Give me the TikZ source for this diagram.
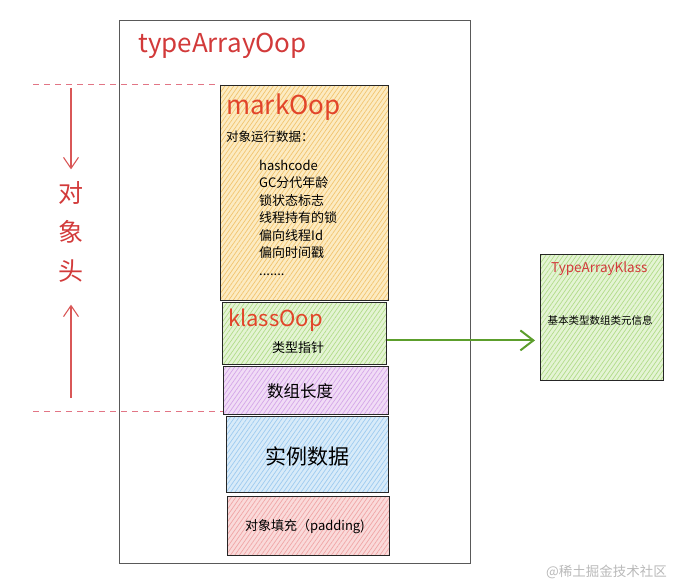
\documentclass[tikz,border=0pt]{standalone}
\usepackage{fontspec}
\setmainfont{Noto Sans CJK SC}
\usetikzlibrary{patterns.meta}
\usetikzlibrary{arrows.meta}

\definecolor{oopred}{HTML}{D23A3A}
\definecolor{markred}{HTML}{E2452A}
\definecolor{dashred}{HTML}{E27585}
\definecolor{arrgreen}{HTML}{5C9E2C}
\definecolor{markfill}{HTML}{FCEBC2}
\definecolor{markhatch}{HTML}{F2C46E}
\definecolor{klassfill}{HTML}{E4F4D4}
\definecolor{klasshatch}{HTML}{B2DC8A}
\definecolor{lenfill}{HTML}{F1DCF6}
\definecolor{lenhatch}{HTML}{D4A6E8}
\definecolor{instfill}{HTML}{D8EBF9}
\definecolor{insthatch}{HTML}{9ECBF0}
\definecolor{padfill}{HTML}{FADADA}
\definecolor{padhatch}{HTML}{F0A6A6}

\tikzset{
  part/.style 2 args={draw=black!85, thick, anchor=north west, inner sep=0pt,
    preaction={fill=#1},
    preaction={pattern={Lines[angle=55, distance=3.6pt, line width=0.7pt]}, pattern color=#2}},
  fs/.style={font=\fontsize{#1}{#1}\selectfont},
}

\begin{document}
\begin{tikzpicture}[x=1pt,y=-1pt]
\useasboundingbox (0,0) rectangle (674,583);
% outer oop
\node[draw=black!65, thick, anchor=north west, inner sep=0pt, minimum width=351pt, minimum height=543pt] (oop) at (119,20) {};
\node[oopred, fs=26, anchor=base west, inner sep=0pt] (oopname) at (138,53) {typeArrayOop};
% header parts
\node[part={markfill}{markhatch}, minimum width=168pt, minimum height=215pt] (mark) at (220,85) {};
\node[markred, fs=26, anchor=base west, inner sep=0pt] (markname) at (226,115) {markOop};
\node[fs=12.5, anchor=base west, inner sep=0pt] (markinfo) at (226,141) {对象运行数据：};
\foreach \t [count=\i] in {hashcode, GC分代年龄, 锁状态标志, 线程持有的锁, 偏向线程Id, 偏向时间戳}
  \node[fs=13, anchor=base west, inner sep=0pt] (m\i) at (259,152.5+17.5*\i) {\t};
\node[fs=13, anchor=base west, inner sep=0pt] (m7) at (259,275) {.......};
\node[part={klassfill}{klasshatch}, minimum width=164pt, minimum height=62pt] (klass) at (222,302) {};
\node[markred, fs=22, anchor=base west, inner sep=0pt] (klassname) at (228,326) {klassOop};
\node[fs=13] (klassinfo) at (298,348) {类型指针};
\node[part={lenfill}{lenhatch}, minimum width=165pt, minimum height=48pt] (len) at (223,366) {};
\node[fs=16.5] (leninfo) at (300,391) {数组长度};
% body
\node[part={instfill}{insthatch}, minimum width=162pt, minimum height=76pt] (inst) at (226,416) {};
\node[fs=21] (instinfo) at (307,456) {实例数据};
\node[part={padfill}{padhatch}, minimum width=162pt, minimum height=59pt] (pad) at (227,496) {};
\node[fs=13] (padinfo) at (305,527) {对象填充（padding)};
% klass
\node[part={klassfill}{klasshatch}, minimum width=123pt, minimum height=126pt] (tak) at (540,254) {};
\node[oopred, fs=13.5, anchor=base west, inner sep=0pt] (takname) at (551,272) {TypeArrayKlass};
\node[fs=10.5] (takinfo) at (600,320) {基本类型数组类元信息};
\draw[arrgreen, line width=2pt, -{Straight Barb[length=13pt,width=20pt,line width=2pt]}, shorten >=5pt]
  ([yshift=-7pt]klass.east) -- ([yshift=-23pt]tak.west);
% object header
\coordinate (dl1) at (33,85);
\coordinate (dl2) at (33,411);
\draw[dashred, line width=1pt, dash pattern=on 6pt off 5pt] (dl1) -- (mark.north west);
\draw[dashred, line width=1pt, dash pattern=on 6pt off 5pt] (dl2) -- (len.west |- dl2);
\node[oopred, align=center, inner sep=0pt, font=\fontsize{25}{39}\selectfont] (head) at (71,232) {对\\象\\头};
\coordinate (htop) at (71,88);
\coordinate (hbot) at (71,398);
\draw[oopred!85, line width=1.1pt, -{Straight Barb[length=11pt,width=15pt]}, shorten >=12pt] (htop) -- (head.north);
\draw[oopred!85, line width=1.1pt, -{Straight Barb[length=11pt,width=15pt]}, shorten >=22pt] (hbot) -- (head.south);
\node[gray!55, fs=13.5, anchor=east, inner sep=0pt] (wm) at (667,572) {@稀土掘金技术社区};
\end{tikzpicture}
\end{document}
